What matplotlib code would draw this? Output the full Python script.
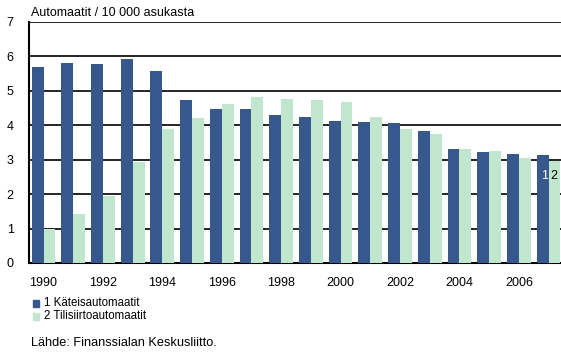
import numpy as np
import matplotlib.pyplot as plt

plt.rcParams['font.family'] = ['Liberation Sans', 'DejaVu Sans']

vuodet = list(range(1990, 2008))
kateis = [5.70, 5.80, 5.78, 5.91, 5.58, 4.74, 4.48, 4.46, 4.29, 4.23,
          4.12, 4.10, 4.05, 3.83, 3.30, 3.21, 3.17, 3.14]
tilisiirto = [1.00, 1.43, 1.94, 2.92, 3.90, 4.22, 4.61, 4.83, 4.77, 4.72,
              4.67, 4.25, 3.88, 3.75, 3.32, 3.24, 3.06, 2.95]
vuosi_tikit = list(range(1990, 2008, 2))

tumma = '#36588c'
vaalea = '#c0e6cd'

fig = plt.figure(figsize=(5.61, 3.53), dpi=100)
ax = fig.add_axes([0.0517, 0.255, 0.9483, 0.683])

x = np.arange(len(vuodet))
lev = 0.40
ax.bar(x - lev / 2, kateis, lev, color=tumma, zorder=3)
ax.bar(x + lev / 2, tilisiirto, lev, color=vaalea, zorder=3)

# vaakaviivat
for v in range(1, 8):
    ax.axhline(v, color='black', lw=1.2, zorder=1)

ax.set_xlim(-0.49, 17.42)
ax.set_ylim(0, 7)
ax.set_yticks(range(0, 8))
ax.set_xticks([v - 1990 for v in vuosi_tikit])
ax.set_xticklabels([str(v) for v in vuosi_tikit])
ax.tick_params(length=0, labelsize=9, colors='black')
ax.tick_params(axis='x', pad=10)
ax.tick_params(axis='y', pad=11)
for s in ['top', 'right']:
    ax.spines[s].set_visible(False)
ax.spines['left'].set_linewidth(1.5)
ax.spines['bottom'].set_linewidth(1.5)

# sarjojen numerot viimeisen vuoden kohdalla
ax.text(x[-1] - lev / 2 + 0.05, 2.53, '1', color='white', fontsize=9,
        ha='center', va='center', zorder=4)
ax.text(x[-1] + lev / 2 - 0.03, 2.53, '2', color='black', fontsize=9,
        ha='center', va='center', zorder=4)

fig.text(0.055, 0.945, 'Automaatit / 10 000 asukasta', fontsize=9, va='bottom')

# selite
for i, (vari, nimi) in enumerate([(tumma, '1 Käteisautomaatit'),
                                   (vaalea, '2 Tilisiirtoautomaatit')]):
    yy = 0.142 - i * 0.037
    fig.patches.append(plt.Rectangle((0.058, yy - 0.011), 0.011, 0.018,
                                     transform=fig.transFigure, color=vari))
    fig.text(0.078, yy, nimi, fontsize=8.3, va='center')

fig.text(0.055, 0.028, 'Lähde: Finanssialan Keskusliitto.', fontsize=9.2, va='center')

fig.savefig('out.png', dpi=100)
